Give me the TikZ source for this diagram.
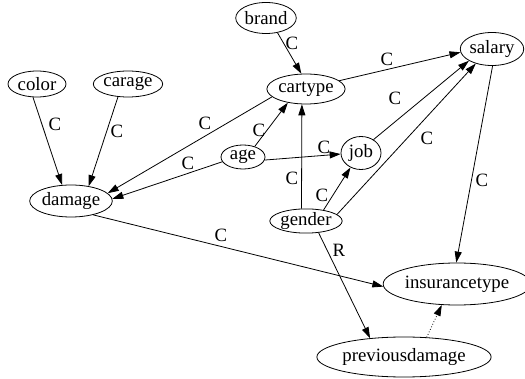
\documentclass[tikz,border=0pt]{standalone}
\usepackage{fontspec}
\setmainfont{Liberation Serif}
\usetikzlibrary{shapes.geometric,arrows.meta}
\tikzset{
  nd/.style={ellipse,draw,line width=0.8pt,inner sep=0pt,font=\fontsize{18.8}{20}\selectfont},
  lbl/.style={inner sep=0pt,font=\fontsize{18.8}{20}\selectfont},
  con/.style={line width=0.8pt,-{Triangle[length=11pt,width=7pt]}},
  dotcon/.style={con,dotted}
}
\begin{document}
\begin{tikzpicture}[x=1pt,y=-1pt]
\useasboundingbox (0,0) rectangle (525,379);
% nodes
\node[nd,minimum width=56pt,minimum height=31pt] (brand) at (266,18) {brand};
\node[nd,minimum width=58pt,minimum height=26pt] (color) at (37,84) {color};
\node[nd,minimum width=64pt,minimum height=26pt] (carage) at (128,84) {carage};
\node[nd,minimum width=74pt,minimum height=30pt] (cartype) at (306,89) {cartype};
\node[nd,minimum width=62pt,minimum height=33pt] (salary) at (492,49) {salary};
\node[nd,minimum width=44pt,minimum height=24pt] (age) at (243,157) {age};
\node[nd,minimum width=40pt,minimum height=33pt] (job) at (361,153) {job};
\node[nd,minimum width=78pt,minimum height=32pt] (damage) at (71,201) {damage};
\node[nd,minimum width=72pt,minimum height=23pt] (gender) at (306,221) {gender};
\node[nd,minimum width=136pt,minimum height=42pt] (ins) at (457,284) {insurancetype};
\node[nd,minimum width=142pt,minimum height=40pt] (prev) at (404,357) {previousdamage};
% connectors
\draw[con] (brand.-52) -- (cartype.107);
\draw[con] (cartype.14) -- (salary.186);
\draw[con] (color.-107) -- (damage.119);
\draw[con] (carage.-128) -- (damage.40);
\draw[con] (cartype.193) -- (damage.12);
\draw[con] (age.193) -- (damage.3);
\draw[con] (age.42) -- (cartype.217);
\draw[con] (age.-8) -- (job.183);
\draw[con] (gender.110) -- (cartype.255);
\draw[con] (gender.32) -- (job.234);
\draw[con] (job.47) -- (salary.207);
\draw[con] (gender.12) -- (salary.222);
\draw[con] (salary.272) -- (ins.92);
\draw[con] (damage.-32) -- (ins.182);
\draw[con] (gender.-43) -- (prev.151);
\draw[dotcon] (prev.41) -- (ins.234);
% labels
\node[lbl] (l1) at (292,43) {C};
\node[lbl] (l2) at (387,59) {C};
\node[lbl] (l3) at (55,124) {C};
\node[lbl] (l4) at (117,131) {C};
\node[lbl] (l5) at (205,123) {C};
\node[lbl] (l6) at (188,163) {C};
\node[lbl] (l7) at (259,130) {C};
\node[lbl] (l8) at (324,147) {C};
\node[lbl] (l9) at (292,178) {C};
\node[lbl] (l10) at (322,195) {C};
\node[lbl] (l11) at (395,98) {C};
\node[lbl] (l12) at (427,138) {C};
\node[lbl] (l13) at (482,180) {C};
\node[lbl] (l14) at (221,235) {C};
\node[lbl] (l15) at (339,250) {R};
\end{tikzpicture}
\end{document}
